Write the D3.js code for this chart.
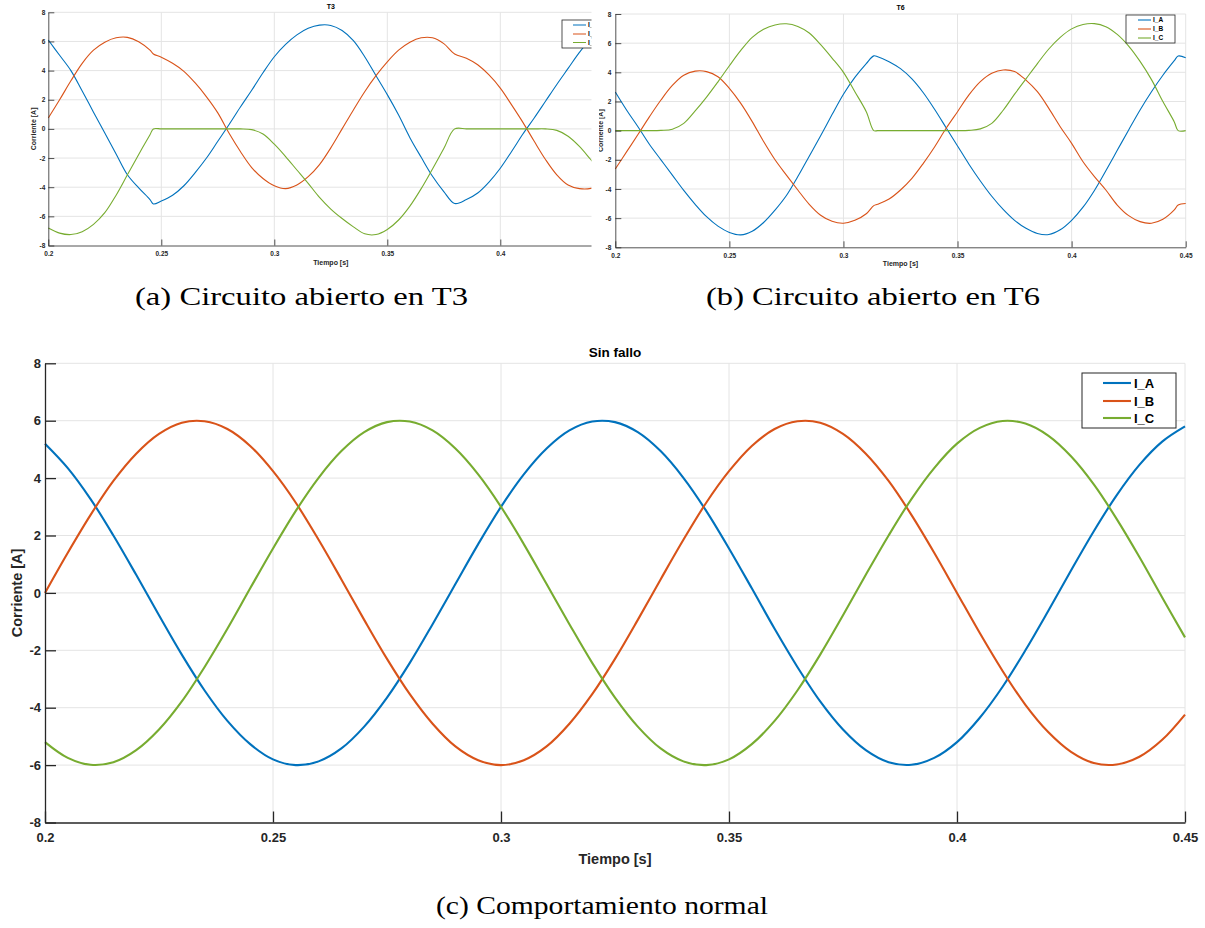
<!DOCTYPE html>
<html lang="es">
<head>
<meta charset="utf-8">
<title>Corrientes de fase: T3, T6 y sin fallo</title>
<script src="https://d3js.org/d3.v7.min.js"></script>
<style>
    body { margin: 0; background: #fff; }
    svg { display: block; }
</style>
</head>
<body>
<svg id="figura" width="1205" height="928"></svg>
<script>
    // ---- datos ----
    const xTicks = [0.2, 0.25, 0.3, 0.35, 0.4, 0.45];
    const yTicks = [-8, -6, -4, -2, 0, 2, 4, 6, 8];
    const nombres = ["I_A", "I_B", "I_C"];
    const colores = ["#0072BD", "#D95319", "#77AC30"];

    // (a) circuito abierto en T3
    const tiempoT3 = [0.2, 0.205, 0.21, 0.215, 0.22, 0.225, 0.23, 0.235, 0.24, 0.245, 0.2465,
        0.25, 0.255, 0.26, 0.265, 0.27, 0.275, 0.28, 0.285, 0.29, 0.295, 0.3, 0.305, 0.31, 0.315,
        0.32, 0.325, 0.33, 0.335, 0.34, 0.345, 0.35, 0.355, 0.36, 0.365, 0.37, 0.375, 0.3798,
        0.385, 0.39, 0.395, 0.4, 0.405, 0.41, 0.415, 0.42, 0.425, 0.43, 0.435, 0.44, 0.445];
    const iaT3 = [6.1, 5.05, 4.0, 2.6, 1.15, -0.28, -1.72, -3.15, -4.05, -4.85, -5.15,
        -4.95, -4.55, -3.9, -3.0, -2.0, -0.85, 0.3, 1.5, 2.65, 3.85, 4.95, 5.8, 6.45, 6.9,
        7.12, 7.1, 6.75, 6.05, 4.95, 3.65, 2.35, 0.95, -0.6, -1.95, -3.25, -4.3, -5.12,
        -4.85, -4.4, -3.65, -2.7, -1.55, -0.35, 0.75, 1.9, 3.05, 4.15, 5.25, 6.2, 6.9];
    const ibT3 = [0.75, 2.0, 3.3, 4.5, 5.4, 5.95, 6.25, 6.28, 5.98, 5.4, 5.14,
        4.92, 4.5, 3.95, 3.15, 2.2, 1.1, -0.3, -1.55, -2.65, -3.4, -3.9, -4.1, -3.85, -3.28,
        -2.45, -1.3, 0.0, 1.3, 2.55, 3.65, 4.6, 5.4, 5.95, 6.25, 6.25, 5.85, 5.14,
        4.85, 4.4, 3.7, 2.8, 1.65, 0.45, -0.85, -2.1, -3.15, -3.85, -4.1, -4.08, -3.7];
    const icT3 = [-6.8, -7.15, -7.25, -7.05, -6.55, -5.75, -4.55, -3.15, -1.75, -0.4, 0,
        0, 0, 0, 0, 0, 0, 0, 0, -0.05, -0.35, -1.05, -1.9, -2.82, -3.74,
        -4.7, -5.5, -6.15, -6.72, -7.2, -7.25, -6.9, -6.25, -5.3, -4.1, -2.75, -1.35, 0,
        0, 0, 0, 0, 0, 0, 0, 0, -0.1, -0.5, -1.2, -2.1, -3.0];

    // (b) circuito abierto en T6
    const tiempoT6 = [0.2, 0.205, 0.21, 0.215, 0.22, 0.225, 0.23, 0.235, 0.24, 0.245, 0.25,
        0.255, 0.26, 0.265, 0.27, 0.275, 0.28, 0.285, 0.29, 0.295, 0.3, 0.305, 0.31, 0.3133,
        0.315, 0.32, 0.325, 0.33, 0.335, 0.34, 0.345, 0.35, 0.355, 0.36, 0.365, 0.37, 0.375,
        0.38, 0.385, 0.39, 0.395, 0.4, 0.405, 0.41, 0.415, 0.42, 0.425, 0.43, 0.435, 0.44,
        0.445, 0.4467, 0.45];
    const iaT6 = [2.65, 1.4, 0.25, -0.95, -2.0, -3.05, -4.1, -5.05, -5.9, -6.55, -6.98,
        -7.15, -6.9, -6.3, -5.45, -4.45, -3.15, -1.75, -0.35, 1.1, 2.5, 3.65, 4.6, 5.13,
        5.07, 4.73, 4.25, 3.55, 2.6, 1.45, 0.2, -1.05, -2.3, -3.45, -4.5, -5.4, -6.15,
        -6.7, -7.05, -7.12, -6.8, -6.15, -5.25, -4.1, -2.75, -1.35, 0.05, 1.42, 2.67, 3.8,
        4.8, 5.12, 5.0];
    const ibT6 = [-2.63, -1.44, -0.25, 0.96, 2.1, 3.1, 3.8, 4.08, 4.05, 3.7, 2.9,
        1.87, 0.62, -0.75, -2.0, -3.05, -4.07, -5.05, -5.8, -6.22, -6.35, -6.15, -5.7, -5.14,
        -5.05, -4.69, -4.07, -3.27, -2.24, -1.1, 0.16, 1.3, 2.45, 3.36, 3.93, 4.16, 4.05,
        3.47, 2.67, 1.53, 0.27, -0.87, -2.13, -3.15, -4.07, -5.1, -5.83, -6.24, -6.35, -6.08,
        -5.44, -5.1, -5.0];
    const icT6 = [0, 0, 0, 0, 0.02, 0.1, 0.5, 1.35, 2.3, 3.35, 4.45,
        5.5, 6.4, 6.95, 7.25, 7.33, 7.15, 6.7, 5.9, 4.98, 4.0, 2.67, 1.3, 0,
        0, 0, 0, 0, 0, 0, 0, 0, 0.02, 0.12, 0.5, 1.4, 2.5,
        3.55, 4.6, 5.6, 6.4, 6.98, 7.28, 7.34, 7.13, 6.6, 5.8, 4.75, 3.5, 2.0,
        0.6, 0, 0];

    // (c) sin fallo
    const tiempoNormal = [0.2, 0.205, 0.21, 0.215, 0.22, 0.225, 0.23, 0.235, 0.24, 0.245,
        0.25, 0.255, 0.26, 0.265, 0.27, 0.275, 0.28, 0.285, 0.29, 0.295,
        0.3, 0.305, 0.31, 0.315, 0.32, 0.325, 0.33, 0.335, 0.34, 0.345,
        0.35, 0.355, 0.36, 0.365, 0.37, 0.375, 0.38, 0.385, 0.39, 0.395,
        0.4, 0.405, 0.41, 0.415, 0.42, 0.425, 0.43, 0.435, 0.44, 0.445, 0.45];
    const iaNormal = [5.20, 4.35, 3.27, 2.00, 0.63, -0.78, -2.15, -3.40, -4.46, -5.27,
        -5.80, -6.00, -5.87, -5.42, -4.66, -3.65, -2.44, -1.09, 0.31, 1.70,
        3.00, 4.13, 5.03, 5.66, 5.97, 5.95, 5.60, 4.94, 4.01, 2.86,
        1.55, 0.16, -1.25, -2.58, -3.78, -4.76, -5.48, -5.90, -5.99, -5.75,
        -5.20, -4.35, -3.27, -2.00, -0.63, 0.78, 2.15, 3.40, 4.46, 5.27, 5.80];
    const ibNormal = [0, 1.40, 2.72, 3.90, 4.85, 5.54, 5.93, 5.98, 5.71, 5.12,
        4.24, 3.14, 1.85, 0.47, -0.94, -2.30, -3.53, -4.56, -5.35, -5.83,
        -6.00, -5.83, -5.35, -4.56, -3.53, -2.30, -0.94, 0.47, 1.85, 3.14,
        4.24, 5.12, 5.71, 5.98, 5.93, 5.54, 4.85, 3.90, 2.72, 1.40,
        0, -1.40, -2.72, -3.90, -4.85, -5.54, -5.93, -5.98, -5.71, -5.12, -4.24];
    const icNormal = [-5.20, -5.75, -5.99, -5.90, -5.48, -4.76, -3.78, -2.58, -1.25, 0.16,
        1.55, 2.86, 4.01, 4.94, 5.60, 5.95, 5.97, 5.66, 5.03, 4.13,
        3.00, 1.70, 0.31, -1.09, -2.44, -3.65, -4.66, -5.42, -5.87, -6.00,
        -5.80, -5.27, -4.46, -3.40, -2.15, -0.78, 0.63, 2.00, 3.27, 4.35,
        5.20, 5.75, 5.99, 5.90, 5.48, 4.76, 3.78, 2.58, 1.25, -0.16, -1.55];

    // ---- disposición de cada panel ----
    const paneles = [
        {id: "t3", titulo: "T3", tiempo: tiempoT3, series: [iaT3, ibT3, icT3],
            izq: 48.3, der: 613.3, arriba: 12.3, abajo: 245.5, recorte: [0, 591.5],
            fTick: 6.5, fEtiq: 7, fTit: 7, marca: 6, grosor: 1.1, padX: 5.5, padY: 3,
            ejeYx: 33.7, tituloY: 6.5, etiqXy: 262.5,
            ley: {x: 562, y: 20, w: 49, h: 28, l0: 573, l1: 586, tx: 588, filas: [5, 14, 22.5], f: 6.5},
            pie: "(a) Circuito abierto en T3", pieX: 301.5, pieY: 305, pieW: 333},
        {id: "t6", titulo: "T6", tiempo: tiempoT6, series: [iaT6, ibT6, icT6],
            izq: 615.3, der: 1185.7, arriba: 14, abajo: 247.3, recorte: [599, 1205],
            fTick: 6.5, fEtiq: 7, fTit: 7, marca: 6, grosor: 1.1, padX: 6, padY: 4,
            ejeYx: 600.7, tituloY: 7.5, etiqXy: 264,
            ley: {x: 1126, y: 15, w: 49, h: 28, l0: 1138, l1: 1151, tx: 1153, filas: [5, 14, 23], f: 6.5},
            pie: "(b) Circuito abierto en T6", pieX: 873, pieY: 305, pieW: 334},
        {id: "normal", titulo: "Sin fallo", tiempo: tiempoNormal, series: [iaNormal, ibNormal, icNormal],
            izq: 45, der: 1185, arriba: 363.3, abajo: 822.5, recorte: [0, 1205],
            fTick: 13, fEtiq: 14.5, fTit: 13.5, marca: 11, grosor: 2.1, padX: 10, padY: 4,
            ejeYx: 17, tituloY: 352, etiqXy: 859,
            ley: {x: 1082, y: 373, w: 94, h: 55, l0: 1103, l1: 1131, tx: 1134, filas: [10, 28, 45], f: 13},
            pie: "(c) Comportamiento normal", pieX: 602, pieY: 914, pieW: 332}
    ];

    const fuente = "'Liberation Sans', Arial, Helvetica, sans-serif";
    const gris = "#262626";
    const svg = d3.select("#figura");
    const defs = svg.append("defs");

    paneles.forEach(p => {
        defs.append("clipPath").attr("id", "recorte-" + p.id)
            .append("rect")
            .attr("x", p.recorte[0]).attr("y", 0)
            .attr("width", p.recorte[1] - p.recorte[0]).attr("height", 928);

        const g = svg.append("g").attr("clip-path", `url(#recorte-${p.id})`);

        const x = d3.scaleLinear().domain([0.2, 0.45]).range([p.izq, p.der]);
        const y = d3.scaleLinear().domain([-8, 8]).range([p.abajo, p.arriba]);

        // la imagen (a) está recortada a la derecha: sólo las marcas visibles
        const xVisibles = xTicks.filter(d => x(d) <= p.recorte[1]);

        // rejilla
        g.append("g")
            .selectAll("line")
            .data(xVisibles.slice(1))
            .join("line")
            .attr("x1", d => x(d)).attr("x2", d => x(d))
            .attr("y1", p.arriba).attr("y2", p.abajo)
            .attr("stroke", "#e4e4e4").attr("stroke-width", 1);
        g.append("g")
            .selectAll("line")
            .data(yTicks.slice(1))
            .join("line")
            .attr("x1", p.izq).attr("x2", p.der)
            .attr("y1", d => y(d)).attr("y2", d => y(d))
            .attr("stroke", "#e4e4e4").attr("stroke-width", 1);

        // curvas
        const linea = d3.line()
            .x(d => x(d[0]))
            .y(d => y(d[1]))
            .curve(d3.curveCatmullRom.alpha(0.5));

        p.series.forEach((serie, i) => {
            g.append("path")
                .datum(p.tiempo.map((t, k) => [t, serie[k]]))
                .attr("fill", "none")
                .attr("stroke", colores[i])
                .attr("stroke-width", p.grosor)
                .attr("stroke-linejoin", "round")
                .attr("d", linea);
        });

        // ejes
        const ejeX = d3.axisBottom(x)
            .tickValues(xVisibles)
            .tickSizeInner(-p.marca)
            .tickSizeOuter(0)
            .tickPadding(p.padX)
            .tickFormat(d => String(d));
        const ejeY = d3.axisLeft(y)
            .tickValues(yTicks)
            .tickSizeInner(-p.marca)
            .tickSizeOuter(0)
            .tickPadding(p.padY)
            .tickFormat(d => String(d));

        const gx = g.append("g")
            .attr("transform", `translate(0,${p.abajo})`)
            .call(ejeX);
        const gy = g.append("g")
            .attr("transform", `translate(${p.izq},0)`)
            .call(ejeY);

        [gx, gy].forEach(eje => {
            eje.attr("color", gris)
                .attr("font-family", fuente)
                .attr("font-size", p.fTick)
                .attr("font-weight", "bold");
            eje.selectAll(".domain, .tick line")
                .attr("stroke-width", p.id === "normal" ? 1.3 : 0.8);
        });

        // textos de los ejes
        g.append("text")
            .attr("x", (p.izq + p.der) / 2)
            .attr("y", p.etiqXy)
            .attr("dy", "0.35em")
            .attr("text-anchor", "middle")
            .attr("font-family", fuente)
            .attr("font-weight", "bold")
            .attr("font-size", p.fEtiq)
            .attr("fill", gris)
            .text("Tiempo [s]");

        g.append("text")
            .attr("transform", `translate(${p.ejeYx},${(p.arriba + p.abajo) / 2}) rotate(-90)`)
            .attr("dy", "0.35em")
            .attr("text-anchor", "middle")
            .attr("font-family", fuente)
            .attr("font-weight", "bold")
            .attr("font-size", p.fEtiq)
            .attr("fill", gris)
            .text("Corriente [A]");

        g.append("text")
            .attr("x", (p.izq + p.der) / 2)
            .attr("y", p.tituloY)
            .attr("dy", "0.35em")
            .attr("text-anchor", "middle")
            .attr("font-family", fuente)
            .attr("font-weight", "bold")
            .attr("font-size", p.fTit)
            .attr("fill", "#000")
            .text(p.titulo);

        // leyenda
        const ley = g.append("g");
        ley.append("rect")
            .attr("x", p.ley.x).attr("y", p.ley.y)
            .attr("width", p.ley.w).attr("height", p.ley.h)
            .attr("fill", "#fff")
            .attr("stroke", gris)
            .attr("stroke-width", p.id === "normal" ? 1 : 0.8);
        nombres.forEach((n, i) => {
            const yy = p.ley.y + p.ley.filas[i];
            ley.append("line")
                .attr("x1", p.ley.l0).attr("x2", p.ley.l1)
                .attr("y1", yy).attr("y2", yy)
                .attr("stroke", colores[i])
                .attr("stroke-width", p.grosor);
            ley.append("text")
                .attr("x", p.ley.tx).attr("y", yy)
                .attr("dy", "0.35em")
                .attr("font-family", fuente)
                .attr("font-weight", "bold")
                .attr("font-size", p.ley.f)
                .attr("fill", "#000")
                .text(n);
        });

        // pie de figura
        svg.append("text")
            .attr("x", p.pieX)
            .attr("y", p.pieY)
            .attr("text-anchor", "middle")
            .attr("font-family", "'Liberation Serif', 'DejaVu Serif', serif")
            .attr("font-size", 25)
            .attr("fill", "#000")
            .attr("textLength", p.pieW)
            .attr("lengthAdjust", "spacingAndGlyphs")
            .text(p.pie);
    });
</script>
</body>
</html>
